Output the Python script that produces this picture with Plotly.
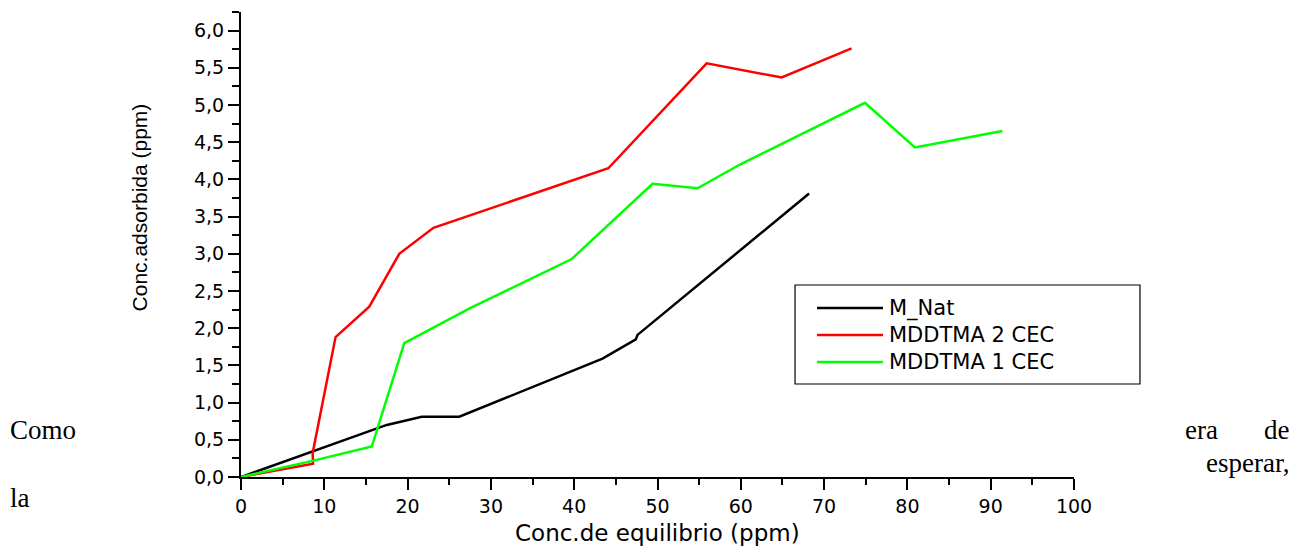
import plotly.graph_objects as go

# ---- data ----
nat_x = [0, 8.5, 15.5, 17.5, 21.7, 26.2, 43.4, 47.4, 47.6, 68.2]
nat_y = [0, 0.34, 0.62, 0.70, 0.81, 0.81, 1.59, 1.85, 1.91, 3.81]

cec2_x = [0, 8.65, 8.6, 11.35, 15.4, 19.0, 23.1, 44.1, 55.9, 64.9, 73.3]
cec2_y = [0, 0.18, 0.32, 1.88, 2.29, 3.00, 3.35, 4.15, 5.56, 5.37, 5.76]

cec1_x = [0, 8.7, 15.7, 19.6, 27.5, 39.7, 49.4, 54.8, 59.9, 74.9, 80.9, 91.4]
cec1_y = [0, 0.22, 0.41, 1.80, 2.27, 2.93, 3.94, 3.88, 4.20, 5.03, 4.43, 4.65]

names = ["M_Nat", "MDDTMA 2 CEC", "MDDTMA 1 CEC"]
colors = ["#000000", "#ff0000", "#00ff00"]

x_title = "Conc.de equilibrio (ppm)"
y_title = "Conc.adsorbida (ppm)"

fig = go.Figure()
for xs, ys, nm, col in zip([nat_x, cec2_x, cec1_x], [nat_y, cec2_y, cec1_y], names, colors):
    fig.add_trace(go.Scatter(x=xs, y=ys, mode="lines", name=nm,
                             line=dict(color=col, width=2.5), showlegend=False))

tickfont = dict(family="DejaVu Sans", size=19, color="#000000")

fig.update_xaxes(range=[0, 100], dtick=10, tick0=0, ticks="outside", ticklen=11, tickwidth=2,
                 tickcolor="#000", showline=True, linewidth=2, linecolor="#000",
                 showgrid=False, zeroline=False, tickfont=tickfont,
                 minor=dict(dtick=5, ticks="outside", ticklen=6, tickwidth=2, tickcolor="#000", showgrid=False))
fig.update_yaxes(range=[0, 6.25], dtick=0.5, tick0=0, tickformat=".1f", ticks="outside", ticklen=11,
                 tickwidth=2, tickcolor="#000", showline=True, linewidth=2, linecolor="#000",
                 showgrid=False, zeroline=False, tickfont=tickfont,
                 minor=dict(dtick=0.25, ticks="outside", ticklen=7, tickwidth=2, tickcolor="#000", showgrid=False))

# axis titles as annotations
fig.add_annotation(text=x_title, xref="paper", yref="paper", x=0.5, y=-0.121,
                   xanchor="center", yanchor="middle", showarrow=False,
                   font=dict(family="DejaVu Sans", size=23, color="#000"))
fig.add_annotation(text=y_title, xref="paper", yref="paper", x=-0.1213, y=0.5796,
                   xanchor="center", yanchor="middle", showarrow=False, textangle=-90,
                   font=dict(family="Liberation Sans", size=21, color="#000"))

# legend (manual, boxed)
lx0, lx1, ly0, ly1 = 0.6651, 1.0792, 0.2, 0.4129
fig.add_shape(type="rect", xref="paper", yref="paper", x0=lx0, x1=lx1, y0=ly0, y1=ly1,
              line=dict(color="#000", width=1.2), fillcolor="white", layer="above")
row_y = [0.3634, 0.3054, 0.2473]
for nm, col, ry in zip(names, colors, row_y):
    fig.add_shape(type="line", xref="paper", yref="paper", x0=0.6915, x1=0.7707, y0=ry, y1=ry,
                  line=dict(color=col, width=2.5), layer="above")
    fig.add_annotation(text=nm, xref="paper", yref="paper", x=0.7755, y=ry,
                       xanchor="left", yanchor="middle", showarrow=False,
                       font=dict(family="DejaVu Sans", size=21, color="#000"))

# surrounding body text
serif = dict(family="Liberation Serif", size=27, color="#000")
fig.add_annotation(text="Como", xref="paper", yref="paper", x=-0.2797, y=0.101,
                   xanchor="left", yanchor="middle", showarrow=False, font=serif)
fig.add_annotation(text="era", xref="paper", yref="paper", x=1.1309, y=0.101,
                   xanchor="left", yanchor="middle", showarrow=False, font=serif)
fig.add_annotation(text="de", xref="paper", yref="paper", x=1.2617, y=0.101,
                   xanchor="right", yanchor="middle", showarrow=False, font=serif)
fig.add_annotation(text="esperar,", xref="paper", yref="paper", x=1.2617, y=0.030,
                   xanchor="right", yanchor="middle", showarrow=False, font=serif)
fig.add_annotation(text="la", xref="paper", yref="paper", x=-0.2797, y=-0.045,
                   xanchor="left", yanchor="middle", showarrow=False, font=serif)

fig.update_layout(width=1305, height=546, margin=dict(l=241, r=231, t=12, b=69, autoexpand=False),
                  paper_bgcolor="white", plot_bgcolor="white", separators=", ",
                  showlegend=False)

fig.write_html("out.html", config={"displayModeBar": False},
               post_script="document.body.style.margin='0';document.body.style.overflow='hidden';")
